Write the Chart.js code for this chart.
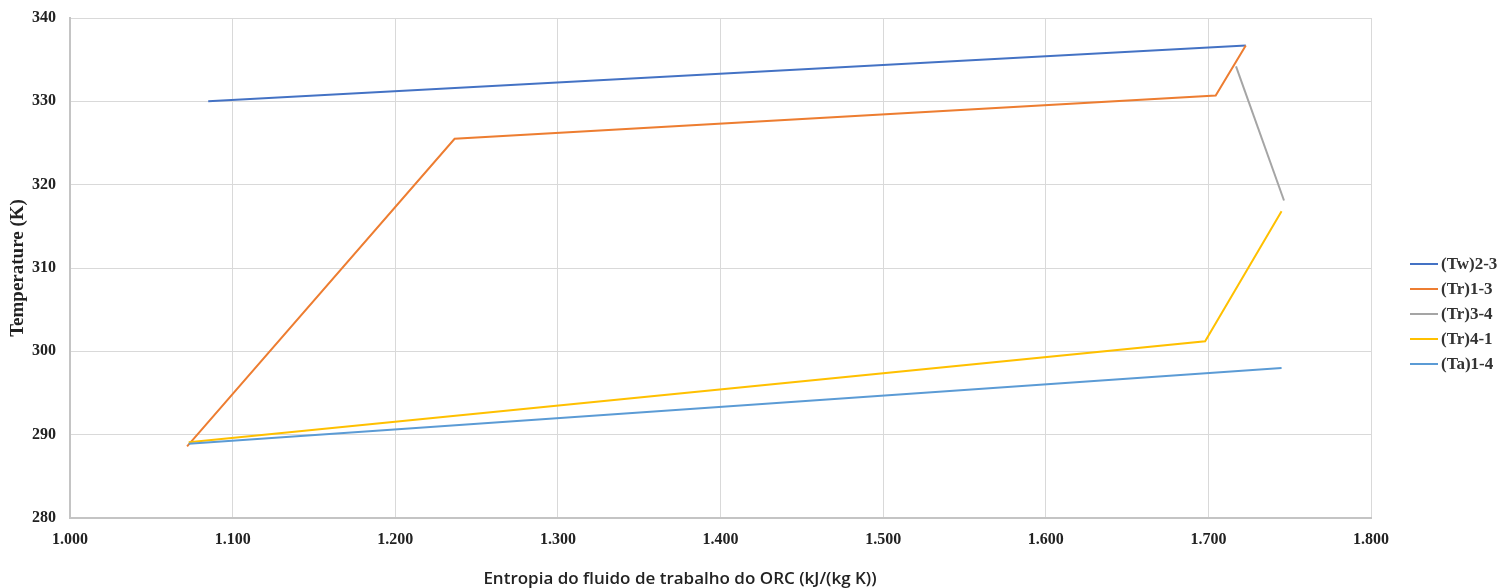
<!DOCTYPE html>
<html>
<head>
<meta charset="utf-8">
<script src="https://cdn.jsdelivr.net/npm/chart.js@4.4.1/dist/chart.umd.min.js"></script>
<style>
    body { margin: 0; background: #fff; }
    #wrap { position: relative; width: 1504px; height: 588px; }
    #xTitle {
        position: absolute; left: 0; top: 566px; width: 1360px;
        text-align: center; font: 600 17px "Open Sans", sans-serif; color: #222;
        line-height: 24px;
    }
    #legend { position: absolute; left: 1410px; top: 251px; }
    .item { display: flex; align-items: center; height: 25px; }
    .swatch { width: 28px; height: 2px; margin-right: 3px; }
    .label { font: bold 17px "Liberation Serif", serif; color: #333; }
</style>
</head>
<body>
<div id="wrap">
    <canvas id="chart" width="1504" height="588"></canvas>
    <div id="xTitle">Entropia do fluido de trabalho do ORC (kJ/(kg K))</div>
    <div id="legend"></div>
</div>
<script>
/* Data */
const seriesNames = ["(Tw)2-3", "(Tr)1-3", "(Tr)3-4", "(Tr)4-1", "(Ta)1-4"];
const seriesColors = ["#4472C4", "#ED7D31", "#A5A5A5", "#FFC000", "#5B9BD5"];

const tw23X = [1.085, 1.723];
const tw23Y = [330.0, 336.7];
const tr13X = [1.072, 1.2365, 1.7045, 1.723];
const tr13Y = [288.6, 325.5, 330.7, 336.7];
const tr34X = [1.717, 1.7465];
const tr34Y = [334.2, 318.1];
const tr41X = [1.073, 1.698, 1.745];
const tr41Y = [289.1, 301.2, 316.8];
const ta14X = [1.073, 1.745];
const ta14Y = [288.9, 298.0];

const xRange = [1.0, 1.8];
const xStep = 0.1;
const yRange = [280, 340];
const yStep = 10;

function toPoints(xs, ys) {
    return xs.map((x, i) => ({ x: x, y: ys[i] }));
}

const allX = [tw23X, tr13X, tr34X, tr41X, ta14X];
const allY = [tw23Y, tr13Y, tr34Y, tr41Y, ta14Y];

const datasets = seriesNames.map((name, i) => ({
    label: name,
    data: toPoints(allX[i], allY[i]),
    borderColor: seriesColors[i],
    backgroundColor: seriesColors[i],
    borderWidth: 2,
    showLine: true,
    pointRadius: 0,
    tension: 0,
    order: seriesNames.length - i
}));

// Legend as plain html, built from the same arrays
const legendEl = document.getElementById("legend");
seriesNames.forEach((name, i) => {
    const row = document.createElement("div");
    row.className = "item";
    row.innerHTML = `<span class="swatch" style="background:${seriesColors[i]}"></span><span class="label">${name}</span>`;
    legendEl.appendChild(row);
});

const tickFont = { family: "'Liberation Serif', serif", size: 16, weight: "bold" };

new Chart(document.getElementById("chart").getContext("2d"), {
    type: "scatter",
    data: { datasets },
    options: {
        responsive: false,
        animation: false,
        layout: { padding: { top: 18, right: 133, bottom: 0, left: 0 } },
        plugins: {
            legend: { display: false },
            tooltip: { enabled: false }
        },
        scales: {
            x: {
                type: "linear",
                min: xRange[0],
                max: xRange[1],
                afterFit: s => { s.height = 70; s.paddingLeft = 0; s.paddingRight = 0; },
                grid: { color: "#d9d9d9", lineWidth: 1, drawTicks: false },
                border: { color: "#c4c4c4", width: 2 },
                ticks: {
                    stepSize: xStep,
                    padding: 12,
                    color: "#222",
                    font: tickFont,
                    callback: v => Number(v).toFixed(3)
                }
            },
            y: {
                min: yRange[0],
                max: yRange[1],
                afterFit: s => { s.width = 70; s.paddingTop = 0; s.paddingBottom = 0; },
                grid: { color: "#d9d9d9", lineWidth: 1, drawTicks: false },
                border: { color: "#c4c4c4", width: 2 },
                title: {
                    display: true,
                    text: "Temperature (K)",
                    color: "#222",
                    font: { family: "'Liberation Serif', serif", size: 19, weight: "bold" },
                    padding: { top: 7, bottom: 0 }
                },
                ticks: {
                    stepSize: yStep,
                    padding: 14,
                    color: "#222",
                    font: tickFont
                }
            }
        }
    }
});
</script>
</body>
</html>
